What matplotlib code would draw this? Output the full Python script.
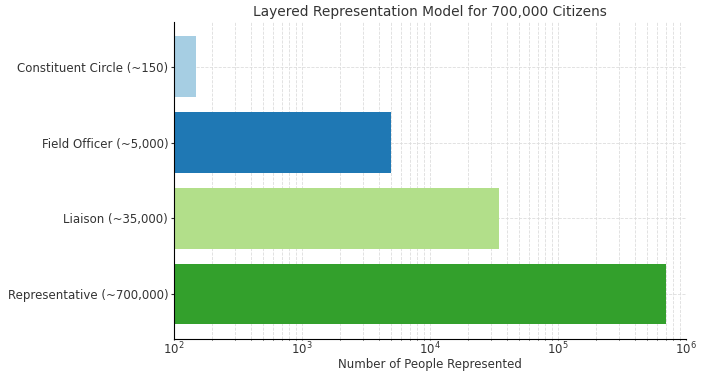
import matplotlib.pyplot as plt

roles = ["Constituent Circle (~150)", "Field Officer (~5,000)",
         "Liaison (~35,000)", "Representative (~700,000)"]
people = [150, 5000, 35000, 700000]
colors = ["#a6cee3", "#1f78b4", "#b2df8a", "#33a02c"]

fig, ax = plt.subplots(figsize=(7.18, 3.72), dpi=100)
fig.subplots_adjust(left=0.242, right=0.955, top=0.941, bottom=0.089)

ax.barh(roles, people, color=colors, height=0.8)
ax.set_xscale("log")
ax.set_xlim(100, 1e6)
ax.invert_yaxis()

ax.set_title("Layered Representation Model for 700,000 Citizens", fontsize=9.9, color="#333333", pad=4)
ax.set_xlabel("Number of People Represented", fontsize=8.5, color="#333333", labelpad=0)
ax.tick_params(axis="y", labelsize=8.5, colors="#333333", length=2.5, pad=1.5)
ax.tick_params(axis="x", labelsize=8.5, colors="#333333", length=1, pad=0.5)
ax.tick_params(axis="x", which="minor", length=0.8)
ax.grid(True, which="both", linestyle="--", linewidth=0.6, color="#dddddd")
ax.set_axisbelow(True)
ax.spines["top"].set_visible(False)
ax.spines["right"].set_visible(False)

plt.savefig("out.png", dpi=100)
